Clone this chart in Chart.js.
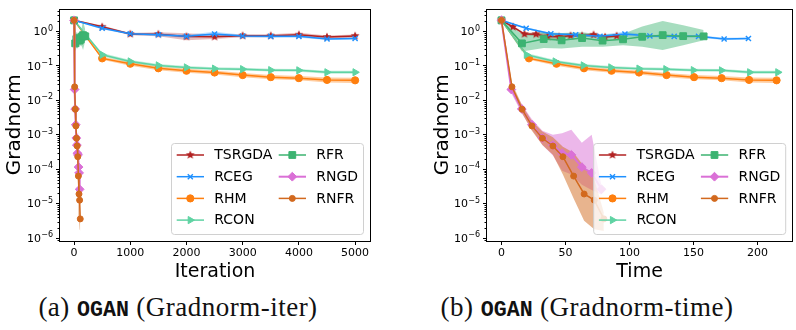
<!DOCTYPE html>
<html><head><meta charset="utf-8">
<script src="https://cdn.jsdelivr.net/npm/chart.js@4.4.1/dist/chart.umd.min.js"></script>
<style>
html,body{margin:0;padding:0;background:#fff;width:796px;height:330px;overflow:hidden;position:relative;}
#wrapA{position:absolute;left:0;top:0;width:395px;height:290px;}
#wrapB{position:absolute;left:400px;top:0;width:398px;height:290px;}
.cap{position:absolute;top:292px;font-family:"Liberation Serif",serif;font-size:27px;letter-spacing:0.5px;white-space:nowrap;color:#111;transform:translateX(-50%);}
.cap .tt{font-family:"Liberation Mono",monospace;font-weight:bold;font-size:0.8em;letter-spacing:0;}
</style></head><body>
<div id="wrapA"><canvas id="cA" width="395" height="290"></canvas></div>
<div id="wrapB"><canvas id="cB" width="398" height="290"></canvas></div>
<div class="cap" style="left:178px">(a) <span class="tt">OGAN</span> (Gradnorm-iter)</div>
<div class="cap" style="left:587px">(b) <span class="tt">OGAN</span> (Gradnorm-time)</div>
<script>
// ---------------- DATA ----------------
const seriesNames = ['TSRGDA','RCEG','RHM','RCON','RFR','RNGD','RNFR'];

// x positions: iterations (left panel)
const iterLong  = [0,500,1000,1500,2000,2500,3000,3500,4000,4500,5000];
const iterRFR   = [0,20,40,60,80,100,120,140,160,180,200];
const iterRNGD  = [0,10,20,30,40,50,60,70,80,90,100];
const iterRNFR  = [0,11,22,33,44,55,66,77,88,99,110];

// x positions: time (right panel)
const timeTSRGDA = [0,9,18,27,36,45,54,63,72,81,90];
const timeRCEG   = [0,19.3,38.6,58,77,96.5,116,135,154,174,193];
const timeRHM    = [0,21.5,43,64.5,86,107.5,129,150.5,172,193.5,215];
const timeRCON   = [0,19.5,42,64,85.5,107.5,128.5,150,172,194,216];
const timeRFR    = [0,16,33,47,63,79,95,110,126,142,158];
const timeRNGD   = [0,7.7,15.9,23.8,32,40.2,47.4,54.6,62.8,70.5,78.2];
const timeRNFR   = [0,8.2,16.1,23.8,32,40.2,48,56.4,64.6,72.5,80];

// gradnorm mean values
const gnTSRGDA = [2.1,1.36,0.84,0.83,0.71,0.70,0.75,0.75,0.80,0.69,0.74];
const gnRCEG   = [2.1,1.24,0.86,0.80,0.72,0.84,0.74,0.72,0.72,0.60,0.62];
const gnRHM    = [2.1,0.165,0.115,0.085,0.072,0.064,0.054,0.047,0.044,0.039,0.038];
const gnRCON   = [2.1,0.21,0.134,0.103,0.090,0.083,0.080,0.075,0.074,0.065,0.065];
const gnRFR    = [2.1,0.45,0.60,0.55,0.64,0.54,0.59,0.70,0.78,0.73,0.72];
const gnRNGD   = [2.1,0.0206,0.0056,0.00195,8.0e-4,5.0e-4,2.9e-4,2.6e-4,1.15e-4,7.8e-5,2.6e-5];
const gnRNFR   = [2.1,0.0246,0.0055,0.0018,7.9e-4,4.7e-4,2.3e-4,6.3e-5,1.9e-5,1.26e-5,3.6e-6];

// shaded band lower / upper
const loTSRGDA = [2.0,1.25,0.78,0.72,0.55,0.60,0.68,0.68,0.70,0.62,0.66];
const hiTSRGDA = [2.2,1.48,0.90,0.95,0.88,0.80,0.83,0.83,0.92,0.76,0.82];
const loRCEG   = [2.0,1.15,0.80,0.72,0.66,0.72,0.68,0.66,0.66,0.56,0.58];
const hiRCEG   = [2.2,1.33,0.92,0.88,0.80,0.98,0.80,0.78,0.78,0.65,0.67];
const loRHM    = [2.0,0.15,0.10,0.075,0.063,0.056,0.047,0.041,0.038,0.033,0.032];
const hiRHM    = [2.2,0.185,0.13,0.097,0.082,0.073,0.062,0.054,0.051,0.046,0.045];
const loRCON   = [2.0,0.19,0.122,0.094,0.082,0.076,0.073,0.068,0.067,0.059,0.059];
const hiRCON   = [2.2,0.235,0.147,0.113,0.099,0.091,0.088,0.082,0.081,0.072,0.072];
const loRFR    = [2.0,0.26,0.33,0.32,0.36,0.36,0.40,0.36,0.29,0.40,0.55];
const hiRFR    = [2.2,0.85,0.95,0.90,0.95,0.80,0.85,1.40,2.0,1.5,1.1];
const loRNGD   = [2.0,0.016,0.0042,0.0014,5.0e-4,2.5e-4,9e-5,7e-5,3.5e-5,2.5e-5,1.8e-5];
const hiRNGD   = [2.2,0.027,0.0075,0.0028,1.3e-3,1.0e-3,1.1e-3,1.4e-3,5.8e-4,1.0e-3,3.2e-5];
const loRNFR   = [2.0,0.019,0.0042,0.0013,5.0e-4,2.6e-4,7e-5,1.4e-5,3.2e-6,1.8e-6,1.6e-6];
const hiRNFR   = [2.2,0.032,0.0072,0.0025,1.25e-3,8.5e-4,4.5e-4,3.0e-4,1.2e-4,5.2e-5,5.5e-6];

// tick labels / positions
const iterTicks = [0,1000,2000,3000,4000,5000];
const timeTicks = [0,50,100,150,200];
const decadeExps = [-6,-5,-4,-3,-2,-1,0];
const iterAxisTitle = 'Iteration';
const timeAxisTitle = 'Time';
const yAxisTitle = 'Gradnorm';

// ---------------- STYLE ----------------
function starImage(color, r){
  const s = Math.ceil(r*2+2);
  const c = document.createElement('canvas'); c.width = s; c.height = s;
  const g = c.getContext('2d'); g.fillStyle = color; g.beginPath();
  for (let i=0;i<10;i++){
    const a = -Math.PI/2 + i*Math.PI/5; const rr = (i%2) ? r*0.45 : r;
    g.lineTo(s/2 + rr*Math.cos(a), s/2 + rr*Math.sin(a));
  }
  g.closePath(); g.fill(); return c;
}
const styles = {
  TSRGDA:{color:'#b22222', band:'rgba(178,34,34,0.30)', pointStyle:starImage('#b22222',4.6), radius:4.5, rotation:0, pbw:0, lw:1.5},
  RCEG:  {color:'#1e90ff', band:'rgba(30,144,255,0.30)', pointStyle:'crossRot', radius:3.6, rotation:0, pbw:1.4, lw:1.5},
  RHM:   {color:'#ff7f0e', band:'rgba(255,127,14,0.40)', pointStyle:'circle', radius:3.6, rotation:0, pbw:1, lw:1.5},
  RCON:  {color:'#5fd3a3', band:'rgba(95,211,163,0.40)', pointStyle:'triangle', radius:4.2, rotation:90, pbw:1, lw:1.5},
  RFR:   {color:'#3cb371', band:'rgba(60,179,113,0.45)', pointStyle:'rect', radius:4.8, rotation:0, pbw:1, lw:1.5},
  RNGD:  {color:'#da70d6', band:'rgba(218,112,214,0.50)', pointStyle:'rectRot', radius:4.4, rotation:0, pbw:1, lw:2},
  RNFR:  {color:'#d2691e', band:'rgba(210,105,30,0.50)', pointStyle:'circle', radius:3.0, rotation:0, pbw:1, lw:1.5}
};

const gn = {TSRGDA:gnTSRGDA, RCEG:gnRCEG, RHM:gnRHM, RCON:gnRCON, RFR:gnRFR, RNGD:gnRNGD, RNFR:gnRNFR};
const lo = {TSRGDA:loTSRGDA, RCEG:loRCEG, RHM:loRHM, RCON:loRCON, RFR:loRFR, RNGD:loRNGD, RNFR:loRNFR};
const hi = {TSRGDA:hiTSRGDA, RCEG:hiRCEG, RHM:hiRHM, RCON:hiRCON, RFR:hiRFR, RNGD:hiRNGD, RNFR:hiRNFR};
const xIter = {TSRGDA:iterLong, RCEG:iterLong, RHM:iterLong, RCON:iterLong, RFR:iterRFR, RNGD:iterRNGD, RNFR:iterRNFR};
const xTime = {TSRGDA:timeTSRGDA, RCEG:timeRCEG, RHM:timeRHM, RCON:timeRCON, RFR:timeRFR, RNGD:timeRNGD, RNFR:timeRNFR};

function pts(xs, ys){ return xs.map((x,i)=>({x:x, y:ys[i]})); }

function buildDatasets(xMap){
  const ds = [];
  seriesNames.forEach((n,s)=>{
    const st = styles[n];
    ds.push({label:n+'_lo', data:pts(xMap[n], lo[n]), borderWidth:0, pointRadius:0, fill:false, order:1000-s, tension:0});
    ds.push({label:n+'_hi', data:pts(xMap[n], hi[n]), borderWidth:0, pointRadius:0, fill:'-1', backgroundColor:st.band, order:1000-s, tension:0});
  });
  seriesNames.forEach((n,s)=>{
    const st = styles[n];
    ds.push({label:n, data:pts(xMap[n], gn[n]), borderColor:st.color, borderWidth:st.lw, backgroundColor:st.color,
      pointStyle:st.pointStyle, pointRadius:st.radius, pointRotation:st.rotation,
      pointBackgroundColor:st.color, pointBorderColor:st.color, pointBorderWidth:st.pbw,
      fill:false, order:100-s, tension:0});
  });
  return ds;
}

// frame, minor ticks, decade labels (10 + raised exponent), legend
const framePlugin = {
  id:'frame',
  afterDraw(chart){
    const ca = chart.chartArea, ctx = chart.ctx, ys = chart.scales.y;
    ctx.save();
    ctx.strokeStyle = '#000'; ctx.lineWidth = 1;
    for (let e=-7; e<=1; e++){
      for (let m=2; m<=9; m++){
        const v = m*Math.pow(10,e);
        if (v < ys.min || v > ys.max) continue;
        const py = Math.round(ys.getPixelForValue(v)) + 0.5;
        ctx.beginPath(); ctx.moveTo(ca.left-2.5, py); ctx.lineTo(ca.left, py); ctx.stroke();
      }
    }
    ctx.strokeRect(Math.round(ca.left)-0.5, Math.round(ca.top)+0.5, Math.round(ca.right-ca.left)+1, Math.round(ca.bottom-ca.top));
    ctx.fillStyle = '#000';
    decadeExps.forEach(e=>{
      const py = ys.getPixelForValue(Math.pow(10,e));
      const expTxt = (e < 0 ? '\u2212' : '') + Math.abs(e);
      ctx.font = '8px "DejaVu Sans"';
      const ew = ctx.measureText(expTxt).width;
      const right = ca.left - 7;
      ctx.textAlign = 'left'; ctx.textBaseline = 'alphabetic';
      ctx.fillText(expTxt, right - ew, py - 0.8);
      ctx.font = '11px "DejaVu Sans"';
      ctx.textAlign = 'right'; ctx.textBaseline = 'middle';
      ctx.fillText('10', right - ew - 0.3, py + 0.8);
    });
    ctx.restore();
  }
};
const legendPlugin = {
  id:'ownLegend',
  afterDraw(chart){
    const ca = chart.chartArea, ctx = chart.ctx;
    const w = 192, h = 91;
    const x0 = ca.right - 7 - w, y0 = ca.bottom - 7 - h;
    ctx.save();
    ctx.beginPath();
    if (ctx.roundRect) ctx.roundRect(x0+0.5, y0+0.5, w, h, 3); else ctx.rect(x0+0.5, y0+0.5, w, h);
    ctx.fillStyle = 'rgba(255,255,255,0.8)'; ctx.fill();
    ctx.strokeStyle = '#d0d0d0'; ctx.lineWidth = 1; ctx.stroke();
    ctx.font = '14px "DejaVu Sans"'; ctx.textBaseline = 'middle'; ctx.textAlign = 'left';
    seriesNames.forEach((n,i)=>{
      const st = styles[n];
      const col = i < 4 ? 0 : 1, row = i < 4 ? i : i-4;
      const cx = x0 + col*102;
      const cy = y0 + 12 + row*21.7;
      ctx.strokeStyle = st.color; ctx.fillStyle = st.color; ctx.lineWidth = st.lw;
      ctx.beginPath(); ctx.moveTo(cx+5.7, cy); ctx.lineTo(cx+33, cy); ctx.stroke();
      ctx.lineWidth = st.pbw || 1;
      Chart.helpers.drawPoint(ctx, {pointStyle:st.pointStyle, radius:st.radius, rotation:st.rotation, borderWidth:st.pbw}, cx+19.3, cy);
      ctx.fillStyle = '#000';
      ctx.fillText(n, cx+43.3, cy+0.5);
    });
    ctx.restore();
  }
};

Chart.defaults.font.family = '"DejaVu Sans"';
Chart.defaults.color = '#000';

function makeChart(id, xMap, xMin, xMax, xTickVals, xTitle, yWidth, yTitlePad, padRight){
  return new Chart(document.getElementById(id), {
    type:'line',
    data:{datasets:buildDatasets(xMap)},
    options:{
      responsive:false, animation:false, events:[],
      layout:{padding:{left:0, top:6, right:padRight, bottom:0}},
      plugins:{legend:{display:false}, tooltip:{enabled:false}},
      scales:{
        x:{type:'linear', min:xMin, max:xMax, bounds:'data',
          afterBuildTicks:(s)=>{ s.ticks = xTickVals.map(v=>({value:v})); },
          afterFit:(s)=>{ s.height = 49; },
          grid:{display:true, drawOnChartArea:false, drawTicks:true, tickLength:4, tickColor:'#000', tickWidth:1},
          border:{display:false},
          ticks:{autoSkip:false, maxRotation:0, padding:2, font:{size:11}, color:'#000', callback:(v)=>String(v)},
          title:{display:true, text:xTitle, font:{size:19}, padding:{top:0,bottom:7}, color:'#000'}
        },
        y:{type:'logarithmic', min:8.2e-7, max:4.6, bounds:'data',
          afterBuildTicks:(s)=>{ s.ticks = decadeExps.map(e=>({value:Math.pow(10,e)})); },
          afterFit:(s)=>{ s.width = yWidth; },
          grid:{display:true, drawOnChartArea:false, drawTicks:true, tickLength:4, tickColor:'#000', tickWidth:1},
          border:{display:false},
          ticks:{autoSkip:false, padding:2, font:{size:11}, color:'#000', callback:()=>''},
          title:{display:true, text:yAxisTitle, font:{size:20}, padding:{top:yTitlePad,bottom:0}, color:'#000'}
        }
      }
    },
    plugins:[framePlugin, legendPlugin]
  });
}

makeChart('cA', xIter, -250, 5265, iterTicks, iterAxisTitle, 60, 3, 25);
makeChart('cB', xTime, -11.3, 227.2, timeTicks, timeAxisTitle, 87, 30.5, 1);
</script>
</body></html>
